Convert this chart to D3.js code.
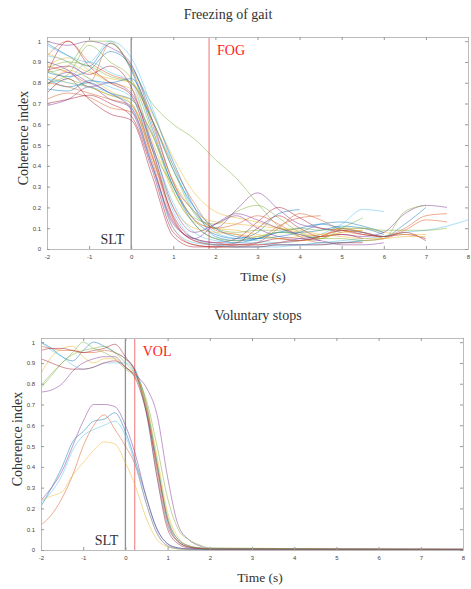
<!DOCTYPE html>
<html>
<head>
<meta charset="utf-8">
<script src="https://cdn.jsdelivr.net/npm/d3@7"></script>
<style>
  body { margin: 0; background: #fff; }
  svg { display: block; }
  .tick text { font-family: "Liberation Sans", Arial, sans-serif; font-size: 6px; fill: #444; }
  .tick line { stroke: #999; }
  .domain { stroke: #bbb; }
</style>
</head>
<body>
<script>
// time grids (s)
var fogTimes = [-2, -1.5, -1, -0.5, 0, 0.5, 1, 1.5, 2, 2.5, 3, 3.5, 4, 4.5, 5, 5.5, 6, 6.5, 7, 7.5, 8];
var volTimes = [-2, -1.75, -1.5, -1.25, -1, -0.75, -0.5, -0.25, 0, 0.25, 0.5, 0.75, 1, 1.25, 1.5, 1.75, 2, 8];

var xTicks = [-2, -1, 0, 1, 2, 3, 4, 5, 6, 7, 8];
var yTicks = [0, 0.1, 0.2, 0.3, 0.4, 0.5, 0.6, 0.7, 0.8, 0.9, 1];

// freezing of gait trials (coherence index on fogTimes, each ends when the trial ends)
var fog01 = [0.99, 0.93, 0.88, 0.99, 0.86, 0.58, 0.30, 0.14, 0.07, 0.05, 0.08, 0.17, 0.19];
var fog02 = [0.93, 1.00, 0.90, 0.84, 0.80, 0.62, 0.40, 0.22, 0.09, 0.07, 0.05, 0.11, 0.15, 0.16];
var fog03 = [0.88, 0.92, 0.86, 0.80, 0.77, 0.52, 0.27, 0.13, 0.10, 0.09, 0.07, 0.05, 0.04, 0.05, 0.08, 0.09];
var fog04 = [1.00, 0.98, 1.00, 0.97, 0.89, 0.62, 0.32, 0.18, 0.10, 0.19, 0.27, 0.19, 0.12, 0.10, 0.08];
var fog05 = [0.85, 0.88, 1.00, 1.00, 0.87, 0.70, 0.60, 0.53, 0.43, 0.34, 0.22, 0.11, 0.06];
var fog06 = [0.98, 0.93, 0.90, 1.00, 0.92, 0.68, 0.40, 0.18, 0.08, 0.05, 0.04, 0.03, 0.04, 0.07, 0.12, 0.19, 0.18];
var fog07 = [0.84, 1.00, 0.88, 0.80, 0.74, 0.45, 0.16, 0.05, 0.03, 0.05, 0.13, 0.20, 0.15, 0.10, 0.09, 0.08, 0.06, 0.07, 0.05];
var fog08 = [0.82, 0.78, 0.80, 0.75, 0.72, 0.55, 0.30, 0.12, 0.05, 0.03, 0.05, 0.08, 0.10, 0.12, 0.10, 0.08, 0.06, 0.12, 0.20];
var fog09 = [0.72, 0.75, 0.73, 0.68, 0.66, 0.42, 0.10, 0.02, 0.01, 0.01, 0.03, 0.10, 0.17, 0.14, 0.09, 0.07, 0.06, 0.10, 0.16, 0.17];
var fog10 = [0.78, 0.86, 0.82, 0.76, 0.70, 0.45, 0.20, 0.10, 0.08, 0.07, 0.06, 0.05, 0.06, 0.07, 0.09, 0.10, 0.08, 0.07, 0.07];
var fog11 = [0.69, 0.72, 0.78, 0.72, 0.68, 0.40, 0.12, 0.05, 0.03, 0.02, 0.02, 0.03, 0.05, 0.06, 0.07, 0.06, 0.08, 0.17, 0.21, 0.20];
var fog12 = [0.86, 0.82, 0.78, 0.74, 0.70, 0.48, 0.30, 0.15, 0.12, 0.18, 0.21, 0.15, 0.08, 0.05, 0.10, 0.15];
var fog13 = [0.80, 0.82, 0.90, 0.85, 0.80, 0.50, 0.22, 0.08, 0.04, 0.03, 0.03, 0.02, 0.02, 0.03, 0.04, 0.05, 0.06, 0.08, 0.09, 0.11, 0.14];
var fog14 = [0.75, 0.82, 0.72, 0.65, 0.62, 0.35, 0.06, 0.01, 0.01, 0.02, 0.03, 0.05, 0.04, 0.06, 0.09, 0.07, 0.06, 0.08, 0.04];
var fog15 = [0.85, 0.83, 0.86, 0.95, 0.88, 0.66, 0.42, 0.20, 0.06, 0.04, 0.05, 0.08, 0.08, 0.09, 0.11, 0.10, 0.07];
var fog16 = [0.88, 0.85, 0.80, 0.99, 0.87, 0.60, 0.32, 0.14, 0.10, 0.12, 0.16, 0.12, 0.06, 0.03, 0.03, 0.04, 0.05, 0.09, 0.14, 0.13];
var fog17 = [0.94, 0.90, 0.85, 0.82, 0.80, 0.65, 0.44, 0.27, 0.18, 0.15, 0.13, 0.10, 0.08, 0.06, 0.08, 0.09];
var fog18 = [0.90, 0.86, 0.78, 0.80, 0.75, 0.50, 0.20, 0.08, 0.12, 0.16, 0.10, 0.06, 0.05, 0.04, 0.02, 0.02, 0.03];
var fog19 = [0.80, 0.84, 0.98, 0.90, 0.82, 0.56, 0.28, 0.12, 0.05, 0.04, 0.06, 0.08, 0.07, 0.05, 0.05, 0.04, 0.05, 0.18, 0.21];
var fog20 = [0.93, 0.90, 0.82, 0.78, 0.73, 0.48, 0.18, 0.05, 0.02, 0.01, 0.01, 0.02, 0.02, 0.03, 0.03, 0.04];
var fog21 = [0.86, 0.88, 0.84, 0.88, 0.78, 0.48, 0.15, 0.04, 0.02, 0.03, 0.10, 0.16, 0.10, 0.06, 0.07, 0.05];
var fog22 = [0.77, 0.76, 0.81, 0.80, 0.82, 0.62, 0.38, 0.20, 0.10, 0.06, 0.05, 0.06, 0.08, 0.12, 0.13, 0.11, 0.08];
var fog23 = [0.80, 0.78, 0.75, 0.72, 0.69, 0.44, 0.14, 0.04, 0.02, 0.02, 0.02, 0.03, 0.04, 0.06, 0.10, 0.08, 0.05];
var fog24 = [0.83, 0.80, 0.78, 0.74, 0.72, 0.55, 0.33, 0.18, 0.13, 0.12, 0.11, 0.10, 0.09, 0.07, 0.06, 0.05, 0.05, 0.06, 0.06];
var fog25 = [0.79, 0.85, 0.80, 0.75, 0.67, 0.40, 0.13, 0.05, 0.12, 0.17, 0.14, 0.10, 0.07, 0.04];
var fog26 = [0.87, 0.90, 0.88, 0.83, 0.80, 0.62, 0.38, 0.17, 0.10, 0.08, 0.09, 0.09, 0.10, 0.09, 0.10, 0.10, 0.09, 0.09, 0.09, 0.10];
var fog27 = [0.82, 0.80, 0.78, 0.75, 0.68, 0.40, 0.10, 0.03, 0.02, 0.01, 0.01, 0.01, 0.02, 0.02, 0.03, 0.04];
var fog28 = [0.70, 0.72, 0.74, 0.70, 0.64, 0.38, 0.08, 0.02, 0.01, 0.01, 0.01, 0.02, 0.02, 0.02, 0.03, 0.03];

// voluntary stop trials (coherence index on volTimes)
var vol01 = [1.00, 0.97, 0.93, 0.91, 0.96, 1.00, 0.98, 0.95, 0.92, 0.86, 0.70, 0.42, 0.15, 0.05, 0.02, 0.01, 0.005, 0.003];
var vol02 = [0.98, 0.97, 0.96, 0.96, 0.95, 0.95, 0.96, 0.95, 0.92, 0.85, 0.68, 0.38, 0.12, 0.04, 0.015, 0.008, 0.004, 0.003];
var vol03 = [0.85, 0.93, 0.97, 0.98, 0.93, 0.90, 0.92, 0.92, 0.88, 0.84, 0.70, 0.45, 0.18, 0.06, 0.02, 0.01, 0.005, 0.003];
var vol04 = [0.76, 0.77, 0.80, 0.86, 0.90, 0.92, 0.93, 0.93, 0.88, 0.84, 0.78, 0.65, 0.35, 0.12, 0.05, 0.02, 0.008, 0.003];
var vol05 = [0.78, 0.84, 0.90, 0.94, 0.96, 0.97, 0.98, 0.95, 0.90, 0.84, 0.72, 0.50, 0.25, 0.10, 0.05, 0.025, 0.01, 0.003];
var vol06 = [1.00, 0.96, 0.93, 0.89, 0.87, 0.88, 0.90, 0.90, 0.90, 0.84, 0.65, 0.35, 0.12, 0.04, 0.015, 0.008, 0.004, 0.003];
var vol07 = [0.96, 0.97, 0.97, 0.96, 0.95, 0.96, 0.97, 0.99, 0.93, 0.85, 0.66, 0.35, 0.10, 0.03, 0.01, 0.006, 0.003, 0.003];
var vol08 = [0.21, 0.30, 0.40, 0.52, 0.57, 0.62, 0.63, 0.66, 0.57, 0.42, 0.25, 0.10, 0.03, 0.01, 0.005, 0.003, 0.002, 0.002];
var vol09 = [0.12, 0.17, 0.25, 0.36, 0.50, 0.60, 0.65, 0.58, 0.50, 0.40, 0.22, 0.08, 0.02, 0.006, 0.003, 0.002, 0.002, 0.002];
var vol10 = [0.24, 0.26, 0.28, 0.36, 0.42, 0.48, 0.52, 0.51, 0.42, 0.30, 0.15, 0.05, 0.015, 0.005, 0.003, 0.002, 0.002, 0.002];
var vol11 = [0.24, 0.30, 0.38, 0.50, 0.62, 0.70, 0.70, 0.69, 0.60, 0.45, 0.25, 0.10, 0.03, 0.01, 0.005, 0.003, 0.002, 0.002];
var vol12 = [0.79, 0.85, 0.90, 0.95, 1.00, 0.97, 0.95, 0.92, 0.87, 0.83, 0.68, 0.42, 0.16, 0.05, 0.02, 0.01, 0.005, 0.003];
var vol13 = [0.23, 0.28, 0.36, 0.48, 0.55, 0.58, 0.60, 0.62, 0.55, 0.40, 0.22, 0.08, 0.02, 0.006, 0.003, 0.002, 0.002, 0.002];
var vol14 = [0.92, 0.90, 0.88, 0.87, 0.87, 0.88, 0.90, 0.91, 0.88, 0.82, 0.66, 0.40, 0.14, 0.04, 0.015, 0.008, 0.004, 0.003];

var fogSeries = [fog01, fog02, fog03, fog04, fog05, fog06, fog07, fog08, fog09, fog10, fog11, fog12, fog13, fog14,
                 fog15, fog16, fog17, fog18, fog19, fog20, fog21, fog22, fog23, fog24, fog25, fog26, fog27, fog28];
var volSeries = [vol01, vol02, vol03, vol04, vol05, vol06, vol07, vol08, vol09, vol10, vol11, vol12, vol13, vol14];

// event markers (s)
var fogEvents = [{ name: "SLT", t: 0 }, { name: "FOG", t: 1.85 }];
var volEvents = [{ name: "SLT", t: 0 }, { name: "VOL", t: 0.22 }];

var palette = ["#0072BD", "#D95319", "#EDB120", "#7E2F8E", "#77AC30", "#4DBEEE", "#A2142F"];

var svg = d3.select("body").append("svg")
  .attr("width", 471)
  .attr("height", 589);

function drawPanel(opts) {
  var x = d3.scaleLinear().domain([-2, 8]).range([opts.left, opts.right]);
  var y = d3.scaleLinear().domain([0, 1.02]).range([opts.bottom, opts.top]);
  var g = svg.append("g");

  // title and axis labels
  g.append("text")
    .attr("x", opts.titleX).attr("y", opts.top - 18)
    .attr("text-anchor", "middle")
    .style("font-family", "'Liberation Serif', 'Times New Roman', serif")
    .style("font-size", "14px").style("fill", "#333")
    .text(opts.title);
  g.append("text")
    .attr("x", opts.xLabelX).attr("y", opts.bottom + 32)
    .attr("text-anchor", "middle")
    .style("font-family", "'Liberation Serif', 'Times New Roman', serif")
    .style("font-size", "13.5px").style("fill", "#333")
    .text("Time (s)");
  g.append("text")
    .attr("transform", "translate(" + (opts.left - 19) + "," + ((opts.top + opts.bottom) / 2 - 5) + ") rotate(-90)")
    .attr("text-anchor", "middle")
    .style("font-family", "'Liberation Serif', 'Times New Roman', serif")
    .style("font-size", "14px").style("fill", "#333")
    .text("Coherence index");

  var clipId = "clip" + opts.id;
  svg.append("clipPath").attr("id", clipId)
    .append("rect")
    .attr("x", opts.left).attr("y", opts.top)
    .attr("width", opts.right - opts.left).attr("height", opts.bottom - opts.top);

  // event lines
  opts.events.forEach(function (e, i) {
    g.append("line")
      .attr("x1", x(e.t)).attr("x2", x(e.t))
      .attr("y1", opts.top).attr("y2", opts.bottom)
      .attr("stroke", i === 0 ? "#909090" : "#f29494")
      .attr("stroke-width", 1.3);
  });

  // trial curves
  var line = d3.line()
    .x(function (d, i) { return x(opts.times[i]); })
    .y(function (d) { return y(d); })
    .curve(d3.curveMonotoneX);
  g.append("g").attr("clip-path", "url(#" + clipId + ")")
    .selectAll("path")
    .data(opts.series)
    .join("path")
    .attr("d", line)
    .attr("fill", "none")
    .attr("stroke", function (d, i) { return palette[i % palette.length]; })
    .attr("stroke-width", 1)
    .attr("stroke-opacity", 0.48);

  // axes with inward ticks on all four sides (box)
  var fmt = function (d) { return String(d); };
  g.append("g").attr("transform", "translate(0," + opts.bottom + ")")
    .call(d3.axisBottom(x).tickValues(xTicks).tickFormat(fmt).tickSizeInner(-3).tickSizeOuter(0).tickPadding(6));
  g.append("g").attr("transform", "translate(0," + opts.top + ")")
    .call(d3.axisTop(x).tickValues(xTicks).tickFormat("").tickSizeInner(-3).tickSizeOuter(0));
  g.append("g").attr("transform", "translate(" + opts.left + ",0)")
    .call(d3.axisLeft(y).tickValues(yTicks).tickFormat(fmt).tickSizeInner(-3).tickSizeOuter(0).tickPadding(6));
  g.append("g").attr("transform", "translate(" + opts.right + ",0)")
    .call(d3.axisRight(y).tickValues(yTicks).tickFormat("").tickSizeInner(-3).tickSizeOuter(0));

  // event names
  g.append("text")
    .attr("x", x(opts.events[0].t) - 7).attr("y", opts.bottom - 5)
    .attr("text-anchor", "end")
    .style("font-family", "'Liberation Serif', 'Times New Roman', serif")
    .style("font-size", "14px").style("fill", "#333")
    .text(opts.events[0].name);
  g.append("text")
    .attr("x", x(opts.events[1].t) + 8).attr("y", opts.top + 18)
    .style("font-family", "'Liberation Serif', 'Times New Roman', serif")
    .style("font-size", "14px").style("fill", "#ff1a1a")
    .text(opts.events[1].name);
}

drawPanel({ id: 1, left: 47, right: 468, top: 37, bottom: 249, title: "Freezing of gait",
  titleX: 228, xLabelX: 263, times: fogTimes, series: fogSeries, events: fogEvents });
drawPanel({ id: 2, left: 41, right: 463, top: 338, bottom: 550, title: "Voluntary stops",
  titleX: 258, xLabelX: 260, times: volTimes, series: volSeries, events: volEvents });
</script>
</body>
</html>
